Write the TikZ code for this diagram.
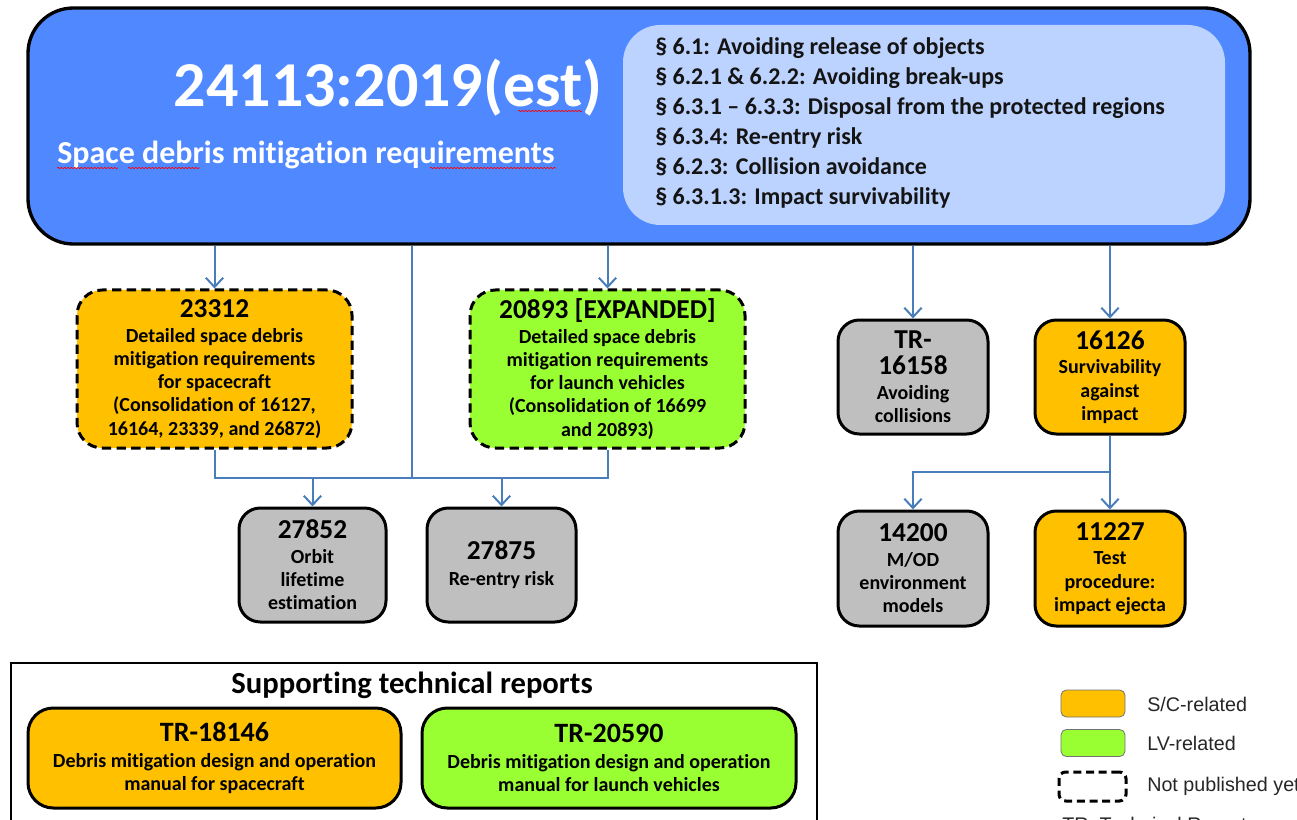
\documentclass[tikz,border=0pt]{standalone}
\usepackage{fontspec}
\setmainfont{Carlito}[Ligatures={NoCommon}]
\newfontfamily\legfont{Liberation Sans}
\usetikzlibrary{arrows.meta,decorations.pathmorphing}
\definecolor{mainblue}{RGB}{79,136,255}
\definecolor{lightblue}{RGB}{189,211,255}
\definecolor{scorange}{RGB}{255,192,0}
\definecolor{lvgreen}{RGB}{153,255,51}
\definecolor{boxgrey}{RGB}{191,191,191}
\definecolor{connblue}{RGB}{74,126,187}
\definecolor{txtdark}{RGB}{20,20,20}
\newcommand\boxtitle{\fontsize{20.5}{17.4}\selectfont}
\newcommand\trtitle{\fontsize{21}{17.4}\selectfont}
\begin{document}
\begin{tikzpicture}[x=0.75pt,y=-0.75pt,
  sz/.style 2 args={minimum width={#1*0.75pt},minimum height={#2*0.75pt}},
  box/.style={draw=black, line width=2.25pt, rounded corners=16pt, align=center, inner sep=0pt,
    font=\bfseries\fontsize{15}{17.4}\selectfont, text=black},
  dashbox/.style={box, dash pattern=on 7pt off 4pt},
  conn/.style={draw=connblue, line width=1.5pt},
  arr/.style={conn, -{Straight Barb[length=7pt,width=13pt]}},
  squig/.style={draw=red, line width=0.5pt, decorate, decoration={snake, amplitude=0.5pt, segment length=2.5pt}},
  legtext/.style={anchor=west, inner sep=0pt, font=\legfont\fontsize{14.8}{18}\selectfont, text=black!85},
  swatch/.style={draw=black!55, line width=0.6pt, rounded corners=4pt, sz={64}{27}}
]
\useasboundingbox (0,0) rectangle (1297,820);

% main box
\node[draw=black, line width=2.5pt, fill=mainblue, rounded corners=34pt, sz={1222}{236}] (main) at (639,126) {};
\node[fill=lightblue, rounded corners=28pt, sz={602}{200}] (inner) at (924,125) {};
\node[text=white, font=\bfseries\fontsize{48}{58}\selectfont, inner sep=0pt] (title) at (388,88) {24113:2019(est)};
\node[text=white, font=\bfseries\fontsize{24}{29}\selectfont, anchor=west, inner sep=0pt] (subtitle) at (57,155) {Space debris mitigation requirements};
\node[anchor=west, align=left, inner sep=0pt, font=\bfseries\fontsize{18}{22.5}\selectfont, text=txtdark] (sections) at (655,123)
  {§ 6.1: Avoiding release of objects\\
   § 6.2.1 \& 6.2.2: Avoiding break-ups\\
   § 6.3.1 – 6.3.3: Disposal from the protected regions\\
   § 6.3.4: Re-entry risk\\
   § 6.2.3: Collision avoidance\\
   § 6.3.1.3: Impact survivability};
\draw[squig] (518,111) -- (582,111);
\draw[squig] (57,168) -- (118,168);
\draw[squig] (128,168) -- (200,168);
\draw[squig] (430,168) -- (556,168);

% second level
\node[dashbox, fill=scorange, sz={275}{158}, rounded corners=19pt] (n23312) at (214.5,369)
  {{\boxtitle 23312}\\[1pt] Detailed space debris\\ mitigation requirements\\ for spacecraft\\ (Consolidation of 16127,\\ 16164, 23339, and 26872)};
\node[dashbox, fill=lvgreen, sz={275}{158}, rounded corners=19pt] (n20893) at (607.5,369)
  {{\boxtitle 20893 [EXPANDED]}\\[1pt] Detailed space debris\\ mitigation requirements\\ for launch vehicles\\ (Consolidation of 16699\\ and 20893)};
\node[box, fill=boxgrey, sz={150}{114}] (n16158) at (913,377)
  {{\boxtitle TR-}\\[2pt] {\boxtitle 16158}\\[1pt] Avoiding\\ collisions};
\node[box, fill=scorange, sz={150}{114}] (n16126) at (1110,377)
  {{\boxtitle 16126}\\[1pt] Survivability\\ against\\ impact};

% third level
\node[box, fill=boxgrey, sz={147}{114}] (n27852) at (312.5,565)
  {{\boxtitle 27852}\\[1pt] Orbit\\ lifetime\\ estimation};
\node[box, fill=boxgrey, sz={149}{114}] (n27875) at (501.5,565)
  {{\boxtitle 27875}\\[2pt] Re-entry risk};
\node[box, fill=boxgrey, sz={150}{115}] (n14200) at (913,568.5)
  {{\boxtitle 14200}\\[1pt] M/OD\\ environment\\ models};
\node[box, fill=scorange, sz={150}{115}] (n11227) at (1110,568.5)
  {{\boxtitle 11227}\\[1pt] Test\\ procedure:\\ impact ejecta};

% connectors
\draw[arr] (main.south -| n23312.north) -- (n23312.north);
\draw[arr] (main.south -| n20893.north) -- (n20893.north);
\draw[arr] (main.south -| n16158.north) -- (n16158.north);
\draw[arr] (main.south -| n16126.north) -- (n16126.north);
\coordinate (bar) at (412,478);
\draw[conn] (main.south -| bar) -- (bar);
\draw[conn] (n23312.south) |- (bar) -| (n20893.south);
\draw[arr] (bar -| n27852.north) -- (n27852.north);
\draw[arr] (bar -| n27875.north) -- (n27875.north);
\coordinate (rbar) at (1110,472);
\draw[arr] (n16126.south) -- (n11227.north);
\draw[arr] (rbar) -| (n14200.north);

% supporting technical reports
\node[draw=black, line width=1.2pt, sz={806}{220}, anchor=north west, inner sep=0pt] (support) at (10,662) {};
\node[font=\bfseries\fontsize{23}{28}\selectfont, inner sep=0pt] (suptitle) at (412,685) {Supporting technical reports};
\node[box, fill=scorange, sz={373}{100}, rounded corners=19pt] (tr18146) at (214.5,758)
  {{\trtitle TR-18146}\\[2pt] Debris mitigation design and operation\\ manual for spacecraft};
\node[box, fill=lvgreen, sz={374}{100}, rounded corners=19pt] (tr20590) at (609,758)
  {{\trtitle TR-20590}\\[2pt] Debris mitigation design and operation\\ manual for launch vehicles};

% legend
\node[swatch, fill=scorange] (legsc) at (1093,703.5) {};
\node[swatch, fill=lvgreen] (leglv) at (1093,743) {};
\node[draw=black, line width=2.25pt, dash pattern=on 6pt off 3.5pt, rounded corners=5pt, sz={67}{29}] (legnp) at (1092.5,786.5) {};
\node[legtext] (legsctxt) at (1147,704) {S/C-related};
\node[legtext] (leglvtxt) at (1147,743) {LV-related};
\node[legtext] (legnptxt) at (1147,786) {Not published yet};
\node[legtext, anchor=base west] (legtrtxt) at (1062,831) {TR: Technical Report};
\end{tikzpicture}
\end{document}
